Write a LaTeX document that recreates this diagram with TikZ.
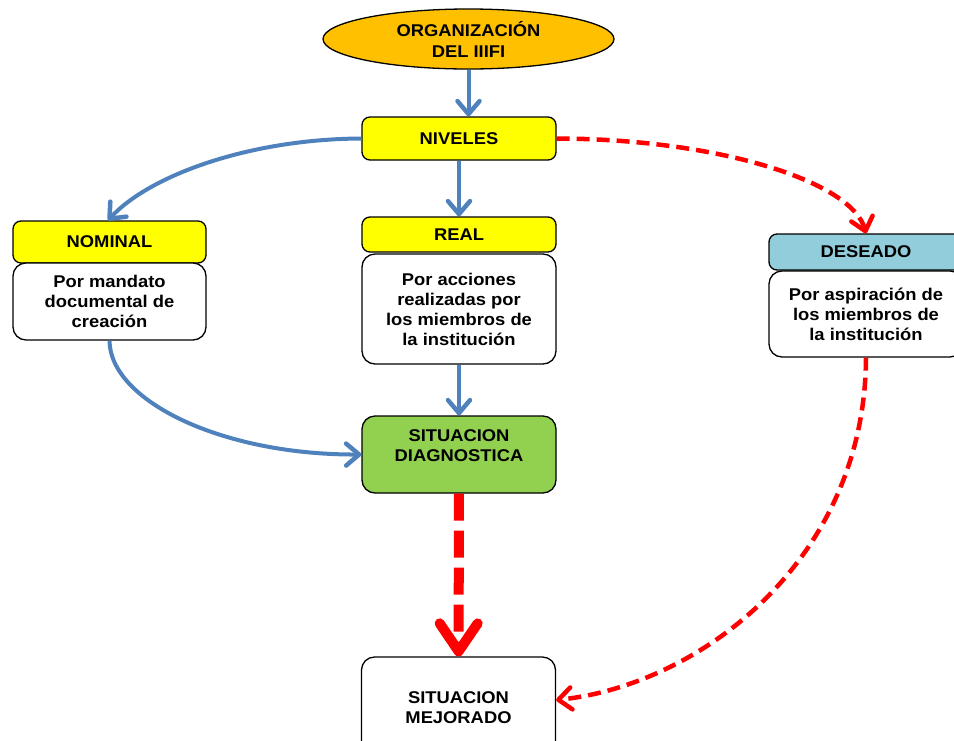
\documentclass[tikz,border=0pt]{standalone}
\usepackage{fontspec}
\setmainfont{Liberation Sans}[FakeStretch=1.08]
\usetikzlibrary{shapes.geometric,arrows.meta}
\definecolor{orgorange}{HTML}{FFC000}
\definecolor{nivyellow}{HTML}{FFFF00}
\definecolor{desblue}{HTML}{92CDDC}
\definecolor{diaggreen}{HTML}{92D050}
\definecolor{linkblue}{HTML}{4F81BD}
\tikzset{
  box/.style={draw=black, line width=1.3pt, rounded corners=8pt, align=center,
    inner sep=0pt, minimum width=194pt, font=\bfseries\fontsize{17}{20}\selectfont},
  headbox/.style={box, fill=nivyellow},
  textbox/.style={box, fill=white, rounded corners=13pt},
  bluelink/.style={draw=linkblue, line width=4pt,
    -{Straight Barb[length=13pt,width=22pt,line width=4.5pt,round]}},
  redlink/.style={draw=red, line width=4.5pt, dash pattern=on 13pt off 7pt,
    -{Straight Barb[length=13pt,width=22pt,line width=4.5pt,round]}},
  bigred/.style={draw=red, line width=10pt, dash pattern=on 27pt off 10pt,
    -{Straight Barb[length=28pt,width=38pt,line width=10pt,round]}}
}
\begin{document}
\begin{tikzpicture}[x=1pt,y=-1pt]
  \useasboundingbox (0,0) rectangle (954,740);
  \node[ellipse, draw=black, line width=1.3pt, fill=orgorange, inner sep=0pt,
    minimum width=291pt, minimum height=60pt, align=center,
    font=\bfseries\fontsize{17}{21}\selectfont] (org) at (468.5,39) {ORGANIZACIÓN\\DEL IIIFI};
  \node[headbox, minimum height=43pt] (niv) at (459,138.5) {NIVELES};
  \node[headbox, minimum width=193pt, minimum height=42pt] (nom) at (109.5,242) {NOMINAL};
  \node[textbox, minimum width=193pt, minimum height=77pt] (nomtxt) at (109.5,301.5) {Por mandato\\documental de\\creación};
  \node[headbox, minimum height=35pt] (real) at (459,234.5) {REAL};
  \node[textbox, minimum height=110pt] (realtxt) at (459,309) {Por acciones\\realizadas por\\los miembros de\\la institución};
  \node[headbox, fill=desblue, minimum height=36pt] (des) at (866,252) {DESEADO};
  \node[textbox, minimum height=86pt] (destxt) at (866,314) {Por aspiración de\\los miembros de\\la institución};
  \node[box, fill=diaggreen, rounded corners=13pt, minimum height=77pt, text depth=17pt] (diag) at (459,454.5) {SITUACION\\DIAGNOSTICA};
  \node[textbox, minimum height=102pt] (mej) at (458.5,708) {SITUACION\\MEJORADO};
  \begin{scope}[bluelink]
    \draw (org.south) to (org.south |- niv.north);
    \draw (niv) to (real);
    \draw (realtxt) to (diag);
    \draw (niv.west) .. controls (250,139) and (150,175) .. (nom.north -| 108,0);
    \draw (nomtxt.south) .. controls (110,400) and (220,455) .. (diag.west);
  \end{scope}
  \draw[redlink] (niv.east) .. controls (720,139) and (852,182) .. (des.north);
  \draw[redlink] (destxt.south) .. controls (865,560) and (700,685) .. ([yshift=8pt]mej.east);
  \draw[bigred] (diag) to (mej);
\end{tikzpicture}
\end{document}
